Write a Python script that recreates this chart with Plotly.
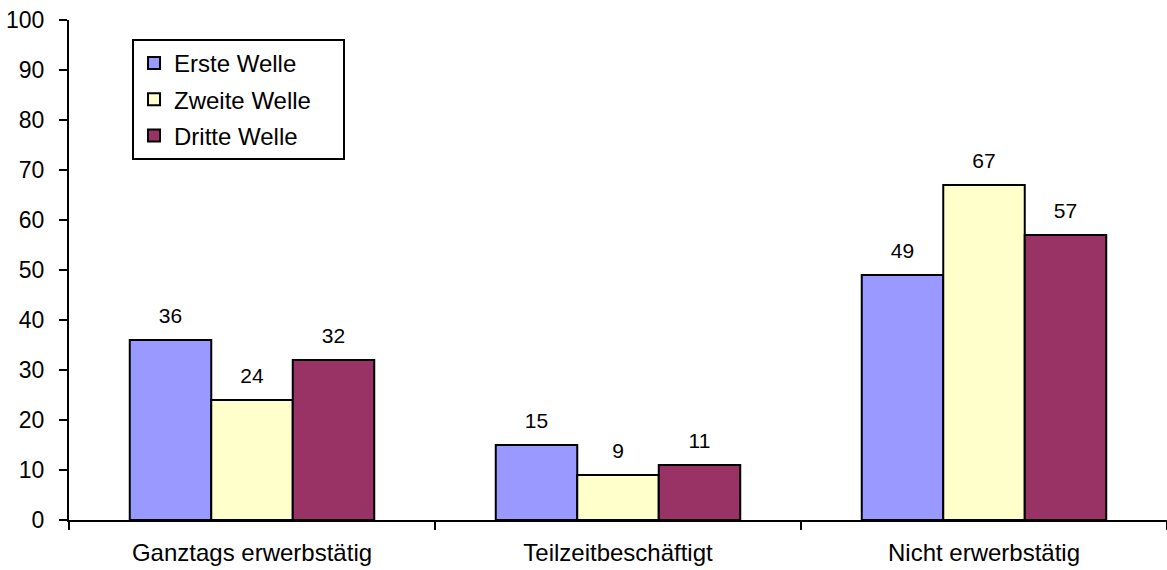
import plotly.graph_objects as go

categories = ["Ganztags erwerbstätig", "Teilzeitbeschäftigt", "Nicht erwerbstätig"]
series_names = ["Erste Welle", "Zweite Welle", "Dritte Welle"]
erste = [36, 15, 49]
zweite = [24, 9, 67]
dritte = [32, 11, 57]
colors = ["#9999FF", "#FFFFCC", "#993366"]
y_ticks = list(range(0, 101, 10))

FONT = "Liberation Sans, Arial, sans-serif"
GAP = 0.332
LEGEND_PAD = "\u00a0" * 4  # extra room on the right of the legend box

fig = go.Figure()
for name, vals, color in zip(series_names, [erste, zweite, dritte], colors):
    fig.add_trace(go.Bar(
        x=categories, y=vals, name=name + LEGEND_PAD, offsetgroup=name, legendgroup=name,
        marker=dict(color=color, line=dict(color="black", width=2)),
        hoverinfo="skip",
    ))
    # value labels above each bar (transparent marker keeps them clear of the bar top)
    fig.add_trace(go.Scatter(
        x=categories, y=vals, mode="markers+text", text=[str(v) for v in vals],
        textposition="top center", offsetgroup=name, legendgroup=name,
        marker=dict(size=18, color="rgba(0,0,0,0)"),
        showlegend=False, hoverinfo="skip", cliponaxis=False,
        textfont=dict(family=FONT, size=21, color="black"),
    ))

fig.update_layout(
    width=1167, height=570,
    margin=dict(l=69, r=0, t=20, b=50),
    paper_bgcolor="white", plot_bgcolor="white",
    barmode="group", bargap=GAP, bargroupgap=0,
    scattermode="group", scattergap=GAP,
    font=dict(family=FONT, size=22, color="black"),
    showlegend=True,
    legend=dict(
        x=0.0574, y=0.962, xanchor="left", yanchor="top",
        bgcolor="white", bordercolor="black", borderwidth=2,
        tracegroupgap=2, font=dict(size=24),
    ),
    xaxis=dict(
        type="category", tickson="boundaries", ticks="outside", ticklen=8,
        tickwidth=2, tickcolor="black", showline=True, linecolor="black",
        linewidth=2, showgrid=False, zeroline=False, ticklabelstandoff=10,
        tickfont=dict(size=24),
    ),
    yaxis=dict(
        range=[0, 100], tickvals=y_ticks, ticks="outside", ticklen=8,
        tickwidth=2, tickcolor="black", showline=True, linecolor="black",
        linewidth=2, showgrid=False, zeroline=False, ticklabelstandoff=10,
        tickfont=dict(size=23),
    ),
)

fig.write_html("out.html")
